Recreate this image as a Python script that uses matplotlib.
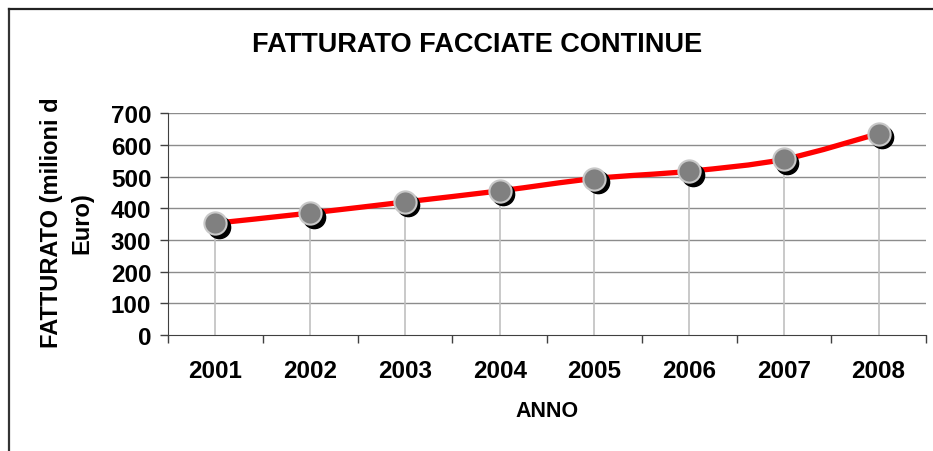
import matplotlib.pyplot as plt
import matplotlib.transforms as mtransforms
from matplotlib.path import Path
from matplotlib.patches import PathPatch
from matplotlib.lines import Line2D
import numpy as np

plt.rcParams['font.family'] = ['Liberation Sans', 'DejaVu Sans']
plt.rcParams['font.weight'] = 'bold'

anni = ['2001', '2002', '2003', '2004', '2005', '2006', '2007', '2008']
fatturato = [353, 385, 420, 455, 494, 517, 555, 636]

fig = plt.figure(figsize=(9.33, 4.52), dpi=100)
ax = fig.add_axes([168/933, 1 - 336/452, (926 - 168)/933, (336 - 114.3)/452])

x = np.arange(1, len(anni) + 1)
y = np.array(fatturato, dtype=float)

# gridlines
for v in range(100, 800, 100):
    ax.axhline(v, color='#8c8c8c', lw=1.0, zorder=1)

# drop lines
ax.vlines(x, 0, y, color='#c0c0c0', lw=1.2, zorder=2)

# smoothed line (bezier through the points)
verts = [(x[0], y[0])]
codes = [Path.MOVETO]
n = len(x)
for i in range(n - 1):
    p0 = np.array([x[max(i - 1, 0)], y[max(i - 1, 0)]])
    p1 = np.array([x[i], y[i]])
    p2 = np.array([x[i + 1], y[i + 1]])
    p3 = np.array([x[min(i + 2, n - 1)], y[min(i + 2, n - 1)]])
    c1 = p1 + (p2 - p0) / 6
    c2 = p2 - (p3 - p1) / 6
    verts += [tuple(c1), tuple(c2), tuple(p2)]
    codes += [Path.CURVE4] * 3
ax.add_patch(PathPatch(Path(verts, codes), facecolor='none', edgecolor='#ff0000',
                       lw=3.8, zorder=3, capstyle='round'))

# shadow markers
shadow = mtransforms.offset_copy(ax.transData, fig=fig, x=2.5, y=-2.5, units='points')
ax.plot(x, y, 'o', ms=16, color='black', transform=shadow, zorder=4)
ax.plot(x, y, 'o', ms=16, markerfacecolor='#808080', markeredgecolor='#c8c8c8',
        markeredgewidth=1.5, zorder=5)

ax.set_xlim(0.5, len(anni) + 0.5)
ax.set_ylim(0, 700)
ax.set_yticks(range(0, 800, 100))
ax.set_xticks(np.arange(0.5, len(anni) + 1, 1))
ax.set_xticklabels([])
ax.set_xticks(x, minor=True)
ax.set_xticklabels(anni, minor=True)
ax.tick_params(axis='x', which='minor', length=0, pad=17, labelsize=17.5)
ax.tick_params(axis='x', which='major', length=6, width=1, color='#404040', direction='out')
ax.tick_params(axis='y', length=6, width=1, color='#404040', labelsize=17.5, pad=6)

for s in ['top', 'right']:
    ax.spines[s].set_visible(False)
ax.spines['left'].set_color('#404040')
ax.spines['bottom'].set_color('#404040')
ax.spines['left'].set_zorder(6)

fig.text(477/933, 1 - 45/452, 'FATTURATO FACCIATE CONTINUE', ha='center', va='center',
         fontsize=19.5, fontweight='bold')
fig.text(547/933, 1 - 412/452, 'ANNO', ha='center', va='center', fontsize=15.5, fontweight='bold')
fig.text(66.5/933, 1 - 223/452, 'FATTURATO (milioni d\nEuro)', rotation=90, ha='center',
         va='center', multialignment='center', fontsize=17, fontweight='bold', linespacing=1.4)

# chart border
fig.add_artist(Line2D([8.5/933, 8.5/933], [0, 1 - 9.5/452], transform=fig.transFigure,
                      color='#333333', lw=1.6))
fig.add_artist(Line2D([8.5/933, 1], [1 - 9.5/452, 1 - 9.5/452], transform=fig.transFigure,
                      color='#222222', lw=1.6))

fig.savefig('out.png', dpi=100)
